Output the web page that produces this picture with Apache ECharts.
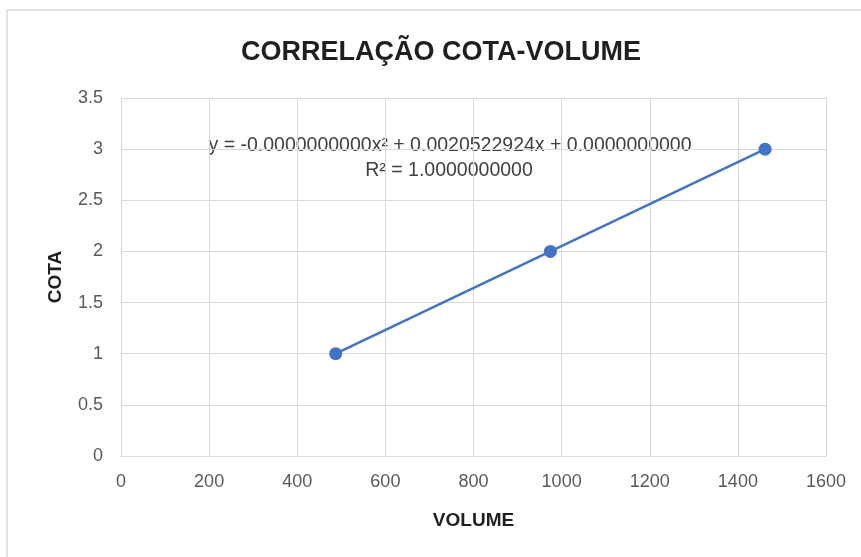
<!DOCTYPE html>
<html>
<head>
<meta charset="utf-8">
<script src="https://cdn.jsdelivr.net/npm/echarts@6/dist/echarts.min.js"></script>
<style>
  html, body { margin: 0; padding: 0; background: #ffffff; }
  #chart { width: 861px; height: 557px; }
</style>
</head>
<body>
<div id="chart"></div>
<script>
// Volume (x) and elevation "cota" (y) observations
const volume = [487.26, 974.52, 1461.78];
const cota = [1, 2, 3];

// Axis ranges and tick steps
const xTicks = { min: 0, max: 1600, step: 200 };
const yTicks = { min: 0, max: 3.5, step: 0.5 };

// Fitted polynomial trend line text
const trendEquation = 'y = -0.0000000000x² + 0.0020522924x + 0.0000000000';
const trendR2 = 'R² = 1.0000000000';

const points = volume.map((v, i) => [v, cota[i]]);

const blue = '#4472C4';
const gridGray = '#d9d9d9';
const labelGray = '#595959';
const font = 'Liberation Sans';

const chart = echarts.init(document.getElementById('chart'));
chart.setOption({
  animation: false,
  backgroundColor: '#ffffff',
  graphic: [
    {
      type: 'polyline',
      shape: { points: [[7, 557], [7, 10], [861, 10]] },
      style: { stroke: '#d9d9d9', lineWidth: 1.5, fill: null },
      silent: true
    },
    {
      type: 'text',
      x: 441, y: 53,
      style: {
        text: 'CORRELAÇÃO COTA-VOLUME',
        align: 'center', verticalAlign: 'middle',
        font: 'bold 27px ' + font,
        fill: '#1f1f1f'
      },
      silent: true
    },
    {
      type: 'text',
      x: 450, y: 146,
      style: {
        text: trendEquation,
        align: 'center', verticalAlign: 'middle',
        font: '19.5px ' + font,
        fill: '#404040'
      },
      silent: true
    },
    {
      type: 'text',
      x: 449, y: 171,
      style: {
        text: trendR2,
        align: 'center', verticalAlign: 'middle',
        font: '19.5px ' + font,
        fill: '#404040'
      },
      silent: true
    }
  ],
  grid: { left: 121, right: 35, top: 98, bottom: 101 },
  xAxis: {
    type: 'value',
    min: xTicks.min, max: xTicks.max, interval: xTicks.step,
    name: 'VOLUME', nameLocation: 'middle', nameGap: 65,
    nameTextStyle: { fontFamily: font, fontWeight: 'bold', fontSize: 19, color: '#1f1f1f', verticalAlign: 'middle' },
    axisLine: { show: true, lineStyle: { color: gridGray, width: 1 } },
    axisTick: { show: false },
    axisLabel: { fontFamily: font, fontSize: 18, color: labelGray, margin: 17, formatter: (v) => String(v) },
    splitLine: { show: true, lineStyle: { color: gridGray, width: 1 } }
  },
  yAxis: {
    type: 'value',
    min: yTicks.min, max: yTicks.max, interval: yTicks.step,
    name: 'COTA', nameLocation: 'middle', nameGap: 65, nameRotate: 90,
    nameTextStyle: { fontFamily: font, fontWeight: 'bold', fontSize: 19, color: '#1f1f1f', verticalAlign: 'middle' },
    axisLine: { show: true, lineStyle: { color: gridGray, width: 1 } },
    axisTick: { show: false },
    axisLabel: { fontFamily: font, fontSize: 18, color: labelGray, margin: 18, formatter: (v) => String(v) },
    splitLine: { show: true, lineStyle: { color: gridGray, width: 1 } }
  },
  series: [
    {
      name: 'Tendência',
      type: 'line',
      data: points,
      showSymbol: false,
      symbol: 'none',
      lineStyle: { color: blue, width: 2.5 },
      z: 2
    },
    {
      name: 'COTA',
      type: 'scatter',
      data: points,
      symbol: 'circle',
      symbolSize: 13,
      itemStyle: { color: blue, opacity: 1 },
      z: 3
    }
  ]
});
</script>
</body>
</html>
